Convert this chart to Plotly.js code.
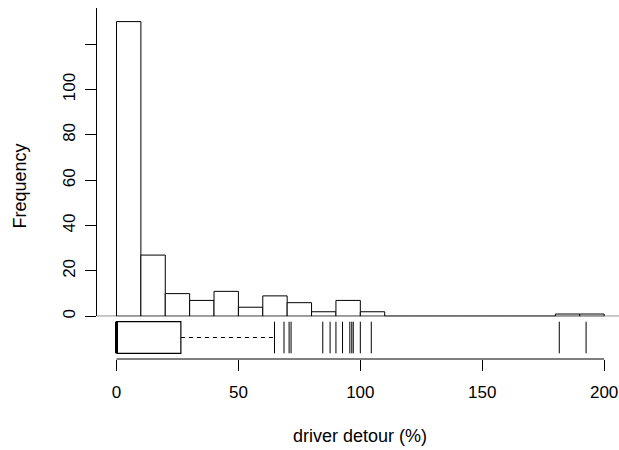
<!DOCTYPE html>
<html>
<head>
<meta charset="utf-8">
<script src="https://cdn.plot.ly/plotly-3.0.1.min.js"></script>
<style>html,body{margin:0;padding:0;background:#fff;}#chart{width:619px;height:450px;}</style>
</head>
<body>
<div id="chart"></div>
<script>
// Histogram data (bins of width 10)
var binStarts = [0,10,20,30,40,50,60,70,80,90,100,110,120,130,140,150,160,170,180,190];
var binCounts = [130,27,10,7,11,4,9,6,2,7,2,0,0,0,0,0,0,0,1,1];
var binWidth = 10;

// Boxplot statistics (driver detour %)
var boxQ1 = 0;
var boxMedian = 0;
var boxQ3 = 26.4;
var whiskerHigh = 64.8;
var outliers = [68.7,70.8,71.6,84.6,87.6,90.0,92.7,95.7,96.5,97.1,100.0,104.5,181.6,192.6];

// Axis ticks
var xTicks = [0,50,100,150,200];
var yTicks = [0,20,40,60,80,100,120];
var yTickText = ['0','20','40','60','80','100',''];

var FONT = 'Liberation Sans, Arial, Helvetica, sans-serif';
var BOX_LO = 0.133, BOX_HI = 0.873, BOX_MID = 0.503;

var bars = {
  type: 'bar',
  x: binStarts.map(function(b){ return b + binWidth/2; }),
  y: binCounts,
  width: binStarts.map(function(){ return binWidth; }),
  marker: {color: '#ffffff', line: {color: '#000000', width: 1}},
  xaxis: 'x', yaxis: 'y',
  hoverinfo: 'skip', showlegend: false
};

var boxRect = {
  type: 'scatter', mode: 'lines',
  x: [boxQ1, boxQ3, boxQ3, boxQ1, boxQ1],
  y: [BOX_LO, BOX_LO, BOX_HI, BOX_HI, BOX_LO],
  fill: 'toself', fillcolor: '#ffffff',
  line: {color: '#000000', width: 1.2},
  xaxis: 'x', yaxis: 'y2', hoverinfo: 'skip', showlegend: false
};

var medianLine = {
  type: 'scatter', mode: 'lines',
  x: [boxMedian, boxMedian], y: [BOX_LO, BOX_HI],
  line: {color: '#000000', width: 3},
  xaxis: 'x', yaxis: 'y2', hoverinfo: 'skip', showlegend: false
};

var whisker = {
  type: 'scatter', mode: 'lines',
  x: [boxQ3, whiskerHigh], y: [BOX_MID, BOX_MID],
  line: {color: '#000000', width: 1, dash: '4px,4px'},
  xaxis: 'x', yaxis: 'y2', hoverinfo: 'skip', showlegend: false
};

var segX = [], segY = [];
[whiskerHigh].concat(outliers).forEach(function(v){
  segX.push(v, v, null); segY.push(BOX_LO, BOX_HI, null);
});
var outlierLines = {
  type: 'scatter', mode: 'lines',
  x: segX, y: segY,
  line: {color: '#000000', width: 1},
  xaxis: 'x', yaxis: 'y2', hoverinfo: 'skip', showlegend: false
};

var layout = {
  width: 619, height: 450,
  margin: {l: 96.5, r: 0, t: 8, b: 91, pad: 0},
  paper_bgcolor: '#ffffff', plot_bgcolor: 'rgba(0,0,0,0)',
  font: {family: FONT, size: 17, color: '#000000'},
  showlegend: false,
  bargap: 0,
  xaxis: {
    range: [-8, 206.1], anchor: 'y2',
    showline: false, showgrid: false, zeroline: false,
    ticks: 'outside', ticklen: 11, tickwidth: 1, tickcolor: '#000000',
    tickmode: 'array', tickvals: xTicks, ticktext: xTicks.map(String),
    tickfont: {family: FONT, size: 17, color: '#000000'},
    ticklabelstandoff: 7
  },
  yaxis: {
    domain: [0.1217, 1], anchor: 'x',
    range: [0, 136.0],
    showline: true, linecolor: '#000000', linewidth: 1,
    showgrid: false, zeroline: false,
    ticks: 'outside', ticklen: 11, tickwidth: 1, tickcolor: '#000000',
    tickmode: 'array', tickvals: yTicks, ticktext: yTickText,
    tickangle: -90,
    tickfont: {family: FONT, size: 17, color: '#000000'},
    ticklabelstandoff: 3
  },
  yaxis2: {
    domain: [0, 0.1217], anchor: 'x',
    range: [0, 1],
    showline: false, showgrid: false, zeroline: false,
    showticklabels: false, ticks: ''
  },
  shapes: [
    {type: 'line', xref: 'paper', yref: 'y', x0: 0, x1: 1, y0: 0, y1: 0,
     line: {color: '#000000', width: 1}},
    {type: 'line', xref: 'x', yref: 'paper', x0: xTicks[0], x1: xTicks[xTicks.length-1], y0: 0, y1: 0,
     line: {color: '#000000', width: 1}}
  ],
  annotations: [
    {text: 'driver detour (%)', xref: 'x', yref: 'paper', x: 100, y: -0.2194,
     xanchor: 'center', yanchor: 'middle', showarrow: false,
     font: {family: FONT, size: 18, color: '#000000'}},
    {text: 'Frequency', xref: 'paper', yref: 'paper', x: -0.1483, y: 0.4929,
     xanchor: 'center', yanchor: 'middle', showarrow: false, textangle: -90,
     font: {family: FONT, size: 18, color: '#000000'}}
  ]
};

Plotly.newPlot('chart', [bars, boxRect, whisker, outlierLines, medianLine], layout,
  {staticPlot: true, displayModeBar: false});
</script>
</body>
</html>
